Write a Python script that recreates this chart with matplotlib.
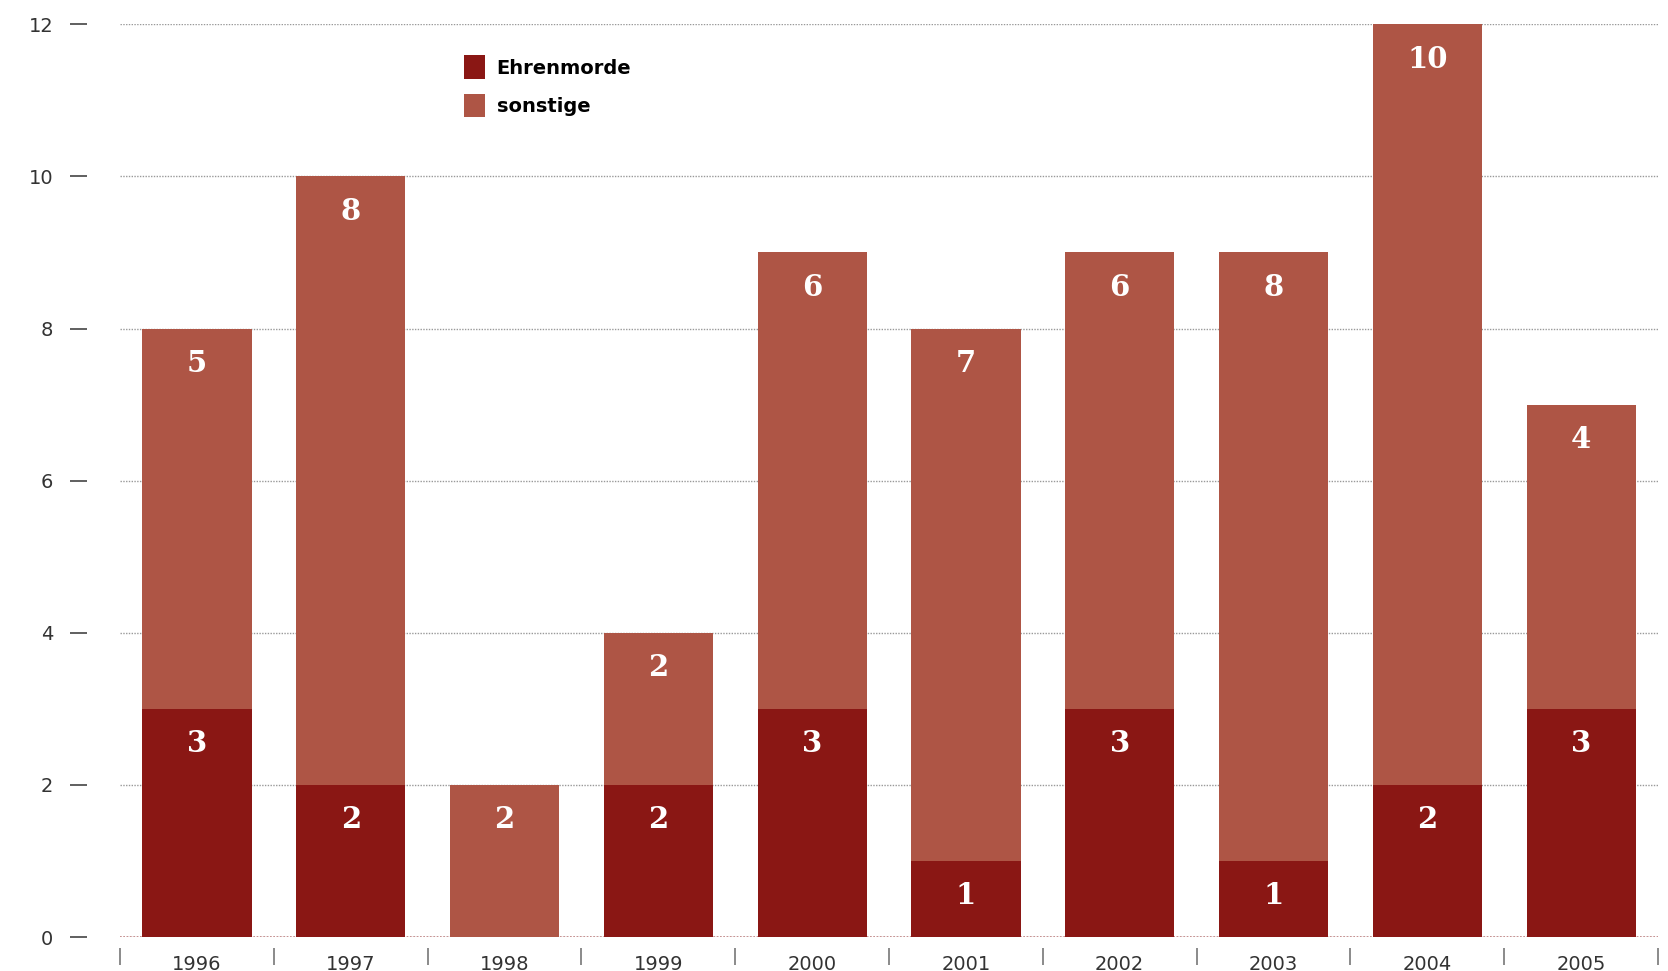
import matplotlib.pyplot as plt
from matplotlib.ticker import FixedLocator

# Daten
jahre = ["1996", "1997", "1998", "1999", "2000", "2001", "2002", "2003", "2004", "2005"]
ehrenmorde = [3, 2, 0, 2, 3, 1, 3, 1, 2, 3]
sonstige = [5, 8, 2, 2, 6, 7, 6, 8, 10, 4]
y_ticks = [0, 2, 4, 6, 8, 10, 12]

farbe_dunkel = "#8a1714"
farbe_hell = "#ae5545"

fig = plt.figure(figsize=(16.68, 9.71), dpi=100)
ax = fig.add_axes([0.072, 0.035, 0.922, 0.94])

x = range(len(jahre))
b1 = ax.bar(x, ehrenmorde, width=0.71, color=farbe_dunkel, label="Ehrenmorde", zorder=3)
b2 = ax.bar(x, sonstige, width=0.71, bottom=ehrenmorde, color=farbe_hell,
            label="sonstige", zorder=3)

# Werte in die Balken schreiben
for bars, werte in ((b1, ehrenmorde), (b2, sonstige)):
    for rect, w in zip(bars, werte):
        if w == 0:
            continue
        top = rect.get_y() + rect.get_height()
        ax.annotate(str(w), (rect.get_x() + rect.get_width() / 2, top),
                    xytext=(0, -35), textcoords="offset pixels",
                    ha="center", va="center", color="white",
                    fontsize=21, fontweight="bold", family="DejaVu Serif", zorder=4)

ax.set_xlim(-0.5, len(jahre) - 0.5)
ax.set_ylim(0, 12)

# Gitterlinien gepunktet
ax.set_yticks(y_ticks)
ax.yaxis.grid(True, linestyle=(0, (1, 1)), color="#999999", linewidth=1, zorder=0)
ax.set_axisbelow(True)

for s in ax.spines.values():
    s.set_visible(False)
ax.spines["left"].set_position(("outward", 24))
ax.spines["bottom"].set_position(("outward", 8))

ax.tick_params(axis="y", direction="out", length=12, width=1.2, color="#444444",
               labelsize=14, labelcolor="#333333", pad=12)

ax.set_xticks(list(x))
ax.set_xticklabels(jahre)
ax.xaxis.set_minor_locator(FixedLocator([i - 0.5 for i in range(len(jahre) + 1)]))
ax.tick_params(axis="x", which="major", length=0, labelsize=14,
               labelcolor="#333333", pad=5)
ax.tick_params(axis="x", which="minor", direction="out", length=12, width=1.2,
               color="#777777", pad=4)
ax.axhline(0, color="#c08080", linestyle=(0, (1, 1)), linewidth=1.2, zorder=2)

leg = ax.legend(loc="upper left", bbox_to_anchor=(0.212, 0.985), frameon=False,
                prop={"weight": "bold", "size": 14}, handlelength=1.1,
                handleheight=1.5, handletextpad=0.6, labelspacing=0.75)

fig.savefig("out.png", dpi=100)
